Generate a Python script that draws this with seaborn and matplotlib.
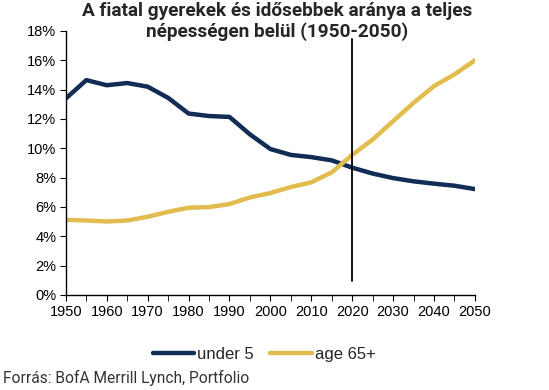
import pandas as pd
import numpy as np
import matplotlib
matplotlib.use("Agg")
import matplotlib.pyplot as plt
import seaborn as sns
from matplotlib.ticker import FuncFormatter, MultipleLocator

# Data (share of population, %)
years = list(range(1950, 2051, 5))
under_5 = [13.4, 14.65, 14.3, 14.45, 14.2, 13.44, 12.37, 12.2, 12.14, 10.95, 9.95,
           9.55, 9.4, 9.18, 8.68, 8.28, 7.97, 7.75, 7.59, 7.45, 7.22]
age_65 = [5.12, 5.08, 5.01, 5.08, 5.33, 5.67, 5.95, 5.99, 6.2, 6.65, 6.95,
          7.36, 7.68, 8.36, 9.55, 10.6, 11.85, 13.1, 14.24, 15.04, 16.0]
series_names = ["under 5", "age 65+"]
cutoff_year = 2020

df = pd.DataFrame({"year": years * 2,
                   "value": under_5 + age_65,
                   "series": [series_names[0]] * len(years) + [series_names[1]] * len(years)})

sns.set_style("white")
plt.rcParams["font.family"] = ["Liberation Sans", "DejaVu Sans"]

fig = plt.figure(figsize=(5.49, 3.9), dpi=100)
ax = fig.add_axes([0.12, 0.2436, 0.745, 0.677])

sns.lineplot(data=df, x="year", y="value", hue="series",
             palette=["#112d55", "#e3bc50"], linewidth=3.2, ax=ax, legend=True)

# vertical marker for the present
ax.plot([cutoff_year, cutoff_year], [0.95, 17.45], color="black", lw=1.3,
        clip_on=False, zorder=5)

ax.set_xlim(1950, 2050)
ax.set_ylim(0, 18)
ax.xaxis.set_major_locator(MultipleLocator(10))
ax.xaxis.set_minor_locator(MultipleLocator(5))
ax.yaxis.set_major_locator(MultipleLocator(2))
ax.yaxis.set_major_formatter(FuncFormatter(lambda v, p: f"{v:.0f}%"))
ax.set_xlabel("")
ax.set_ylabel("")
for s in ["top", "right"]:
    ax.spines[s].set_visible(False)
for s in ["left", "bottom"]:
    ax.spines[s].set_color("black")
    ax.spines[s].set_linewidth(1.0)
ax.tick_params(axis="both", which="both", direction="out", color="black",
               labelsize=10.5, labelcolor="black", pad=3)
ax.tick_params(axis="y", length=4, left=True)
ax.tick_params(axis="x", which="both", length=4, bottom=True)

ax.legend(loc="center", bbox_to_anchor=(0.481, 0.092), bbox_transform=fig.transFigure,
          ncol=2, frameon=False, fontsize=12, handlelength=2.5, handletextpad=0.15,
          columnspacing=1.0)

fig.text(0.505, 0.995, "A fiatal gyerekek és idősebbek aránya a teljes\nnépességen belül (1950-2050)",
         ha="center", va="top", fontsize=13.7, fontweight="bold", linespacing=1.15,
         family=["Roboto", "DejaVu Sans"])
fig.text(0.005, 0.031, "Forrás: BofA Merrill Lynch, Portfolio", ha="left", va="center",
         fontsize=11.2, color="#333333", family=["Roboto", "DejaVu Sans"])

fig.savefig("out.png", dpi=100)
